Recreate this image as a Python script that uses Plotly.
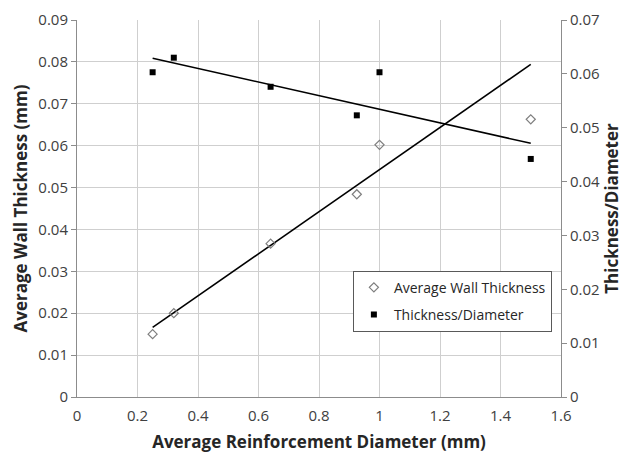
import plotly.graph_objects as go

# Measured data
diameter = [0.25, 0.32, 0.64, 0.925, 1.0, 1.5]
wall_thickness = [0.0150, 0.0200, 0.0366, 0.0484, 0.0602, 0.0663]
thickness_ratio = [0.0603, 0.0630, 0.0576, 0.0523, 0.0603, 0.0442]

# Linear trend lines (end points)
trend_x = [0.25, 1.5]
wall_trend = [0.0166, 0.0794]
ratio_trend = [0.0629, 0.0471]

FONT = "Open Sans"
TICK_COLOR = "#404040"
TITLE_COLOR = "#262626"
GRID = "#cfcfcf"
AXIS = "#8c8c8c"

fig = go.Figure()

fig.add_trace(go.Scatter(
    x=trend_x, y=wall_trend, mode="lines",
    line=dict(color="black", width=1.6), showlegend=False, hoverinfo="skip",
))
fig.add_trace(go.Scatter(
    x=trend_x, y=ratio_trend, mode="lines", yaxis="y2",
    line=dict(color="black", width=1.6), showlegend=False, hoverinfo="skip",
))
fig.add_trace(go.Scatter(
    x=diameter, y=wall_thickness, mode="markers", name="Average Wall Thickness",
    legendgroup="wall",
    marker=dict(symbol="diamond-open", size=7, color="#7f7f7f", line=dict(width=1.2)),
))
fig.add_trace(go.Scatter(
    x=diameter, y=thickness_ratio, mode="markers", name="Thickness/Diameter",
    legendgroup="ratio", yaxis="y2",
    marker=dict(symbol="square", size=6, color="black"),
))

tick_font = dict(family=FONT, size=15, color=TICK_COLOR)

fig.update_layout(
    width=630, height=453,
    margin=dict(l=77, r=69, t=20, b=56),
    paper_bgcolor="white", plot_bgcolor="white",
    font=dict(family=FONT, size=15, color=TICK_COLOR),
    xaxis=dict(
        range=[0, 1.6], dtick=0.2, tick0=0, automargin=False,
        showgrid=True, gridcolor=GRID, gridwidth=1,
        showline=True, linecolor=AXIS, linewidth=1,
        ticks="", zeroline=False, ticklabelstandoff=5,
        tickfont=tick_font,
        title=dict(text="<b>Average Reinforcement Diameter (mm)</b>",
                   font=dict(family=FONT, size=17, color=TITLE_COLOR), standoff=12),
    ),
    yaxis=dict(
        range=[0, 0.09], dtick=0.01, tick0=0, automargin=False,
        showgrid=True, gridcolor=GRID, gridwidth=1,
        showline=True, linecolor=AXIS, linewidth=1,
        ticks="outside", ticklen=5, tickcolor=AXIS, zeroline=False,
        tickfont=tick_font,
        title=dict(text="<b>Average Wall Thickness (mm)</b>",
                   font=dict(family=FONT, size=17, color=TITLE_COLOR), standoff=6),
    ),
    yaxis2=dict(
        range=[0, 0.07], dtick=0.01, tick0=0, automargin=False,
        overlaying="y", side="right", showgrid=False,
        showline=True, linecolor=AXIS, linewidth=1,
        ticks="outside", ticklen=5, tickcolor=AXIS, zeroline=False,
        tickfont=tick_font,
        title=dict(text="<b>Thickness/Diameter</b>",
                   font=dict(family=FONT, size=17, color=TITLE_COLOR), standoff=6),
    ),
    legend=dict(
        x=0.57, y=0.335, xanchor="left", yanchor="top",
        bgcolor="white", bordercolor="#595959", borderwidth=1,
        font=dict(family=FONT, size=14, color=TITLE_COLOR),
        itemwidth=30, tracegroupgap=6,
    ),
    showlegend=True,
)

fig.write_html("out.html")
